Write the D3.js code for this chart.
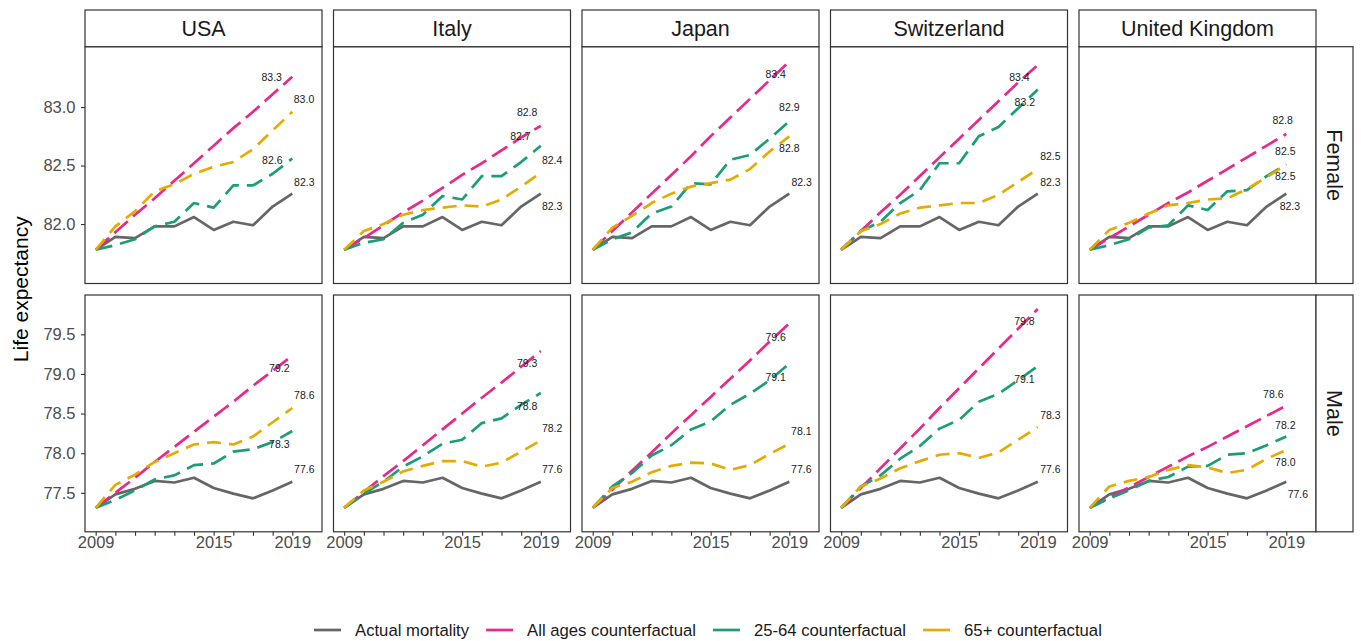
<!DOCTYPE html>
<html>
<head>
<meta charset="utf-8">
<script src="https://cdn.jsdelivr.net/npm/d3@7"></script>
<style>
  html, body { margin: 0; padding: 0; background: #ffffff; }
  svg { display: block; font-family: "Liberation Sans", Arial, Helvetica, sans-serif; }
</style>
</head>
<body>
<svg id="chart" width="1361" height="641"></svg>
<script>
// ---------------- DATA ----------------
const years = [2009, 2010, 2011, 2012, 2013, 2014, 2015, 2016, 2017, 2018, 2019];
const countries = ["USA", "Italy", "Japan", "Switzerland", "United Kingdom"];
const sexes = ["Female", "Male"];
const seriesNames = ["Actual mortality", "All ages counterfactual", "25-64 counterfactual", "65+ counterfactual"];
const xTickLabels = [2009, 2015, 2019];
const yTicksFemale = [82.0, 82.5, 83.0];
const yTicksMale = [77.5, 78.0, 78.5, 79.0, 79.5];

// Actual mortality (same in every country panel)
const actualFemale = [81.78, 81.89, 81.88, 81.98, 81.98, 82.06, 81.95, 82.02, 81.99, 82.15, 82.26];
const actualMale   = [77.31, 77.48, 77.55, 77.65, 77.63, 77.69, 77.56, 77.49, 77.43, 77.53, 77.64];

// All ages counterfactual, rows in country order
const allAgesFemale = [
  [81.78, 81.93, 82.08, 82.22, 82.37, 82.52, 82.67, 82.82, 82.96, 83.11, 83.26],
  [81.78, 81.88, 81.99, 82.10, 82.20, 82.31, 82.42, 82.52, 82.63, 82.74, 82.84],
  [81.78, 81.94, 82.10, 82.26, 82.42, 82.58, 82.75, 82.91, 83.07, 83.23, 83.39],
  [81.78, 81.94, 82.10, 82.25, 82.41, 82.57, 82.73, 82.89, 83.05, 83.21, 83.36],
  [81.78, 81.88, 81.98, 82.08, 82.18, 82.27, 82.37, 82.47, 82.57, 82.67, 82.77]
];
const allAgesMale = [
  [77.31, 77.50, 77.69, 77.89, 78.08, 78.27, 78.46, 78.65, 78.85, 79.04, 79.23],
  [77.31, 77.51, 77.71, 77.90, 78.10, 78.30, 78.50, 78.70, 78.89, 79.09, 79.29],
  [77.31, 77.54, 77.78, 78.01, 78.25, 78.48, 78.71, 78.94, 79.17, 79.41, 79.64],
  [77.31, 77.56, 77.81, 78.06, 78.31, 78.57, 78.82, 79.07, 79.32, 79.57, 79.82],
  [77.31, 77.44, 77.57, 77.70, 77.83, 77.96, 78.08, 78.21, 78.34, 78.47, 78.60]
];

// 25-64 counterfactual
const age2564Female = [
  [81.78, 81.82, 81.87, 81.98, 82.02, 82.18, 82.14, 82.33, 82.33, 82.43, 82.56],
  [81.78, 81.84, 81.87, 82.01, 82.08, 82.24, 82.21, 82.41, 82.41, 82.53, 82.67],
  [81.78, 81.87, 81.93, 82.09, 82.15, 82.35, 82.34, 82.55, 82.59, 82.73, 82.88],
  [81.78, 81.94, 82.02, 82.18, 82.29, 82.52, 82.52, 82.75, 82.83, 82.99, 83.15],
  [81.78, 81.82, 81.87, 81.97, 81.99, 82.16, 82.12, 82.28, 82.29, 82.41, 82.51]
];
const age2564Male = [
  [77.31, 77.41, 77.53, 77.67, 77.72, 77.85, 77.87, 78.02, 78.05, 78.14, 78.28],
  [77.31, 77.49, 77.64, 77.83, 77.96, 78.12, 78.17, 78.38, 78.44, 78.61, 78.76],
  [77.31, 77.58, 77.75, 77.97, 78.10, 78.30, 78.40, 78.61, 78.75, 78.92, 79.13],
  [77.31, 77.58, 77.72, 77.93, 78.09, 78.31, 78.42, 78.65, 78.75, 78.92, 79.10],
  [77.31, 77.43, 77.53, 77.65, 77.70, 77.83, 77.84, 77.98, 78.00, 78.10, 78.21]
];

// 65+ counterfactual
const age65Female = [
  [81.78, 81.98, 82.11, 82.28, 82.34, 82.43, 82.49, 82.53, 82.64, 82.80, 82.96],
  [81.78, 81.94, 82.00, 82.08, 82.12, 82.14, 82.16, 82.15, 82.21, 82.32, 82.44],
  [81.78, 81.97, 82.07, 82.18, 82.26, 82.32, 82.35, 82.38, 82.47, 82.62, 82.75],
  [81.78, 81.94, 82.00, 82.09, 82.14, 82.16, 82.18, 82.18, 82.25, 82.36, 82.47],
  [81.78, 81.95, 82.01, 82.09, 82.16, 82.18, 82.21, 82.22, 82.30, 82.40, 82.51]
];
const age65Male = [
  [77.31, 77.60, 77.73, 77.89, 78.00, 78.11, 78.14, 78.11, 78.21, 78.39, 78.57],
  [77.31, 77.53, 77.64, 77.77, 77.84, 77.90, 77.90, 77.83, 77.88, 78.02, 78.16],
  [77.31, 77.56, 77.64, 77.76, 77.84, 77.88, 77.87, 77.79, 77.85, 77.99, 78.12],
  [77.31, 77.58, 77.68, 77.81, 77.90, 77.98, 78.00, 77.94, 78.01, 78.17, 78.33],
  [77.31, 77.58, 77.65, 77.70, 77.79, 77.85, 77.82, 77.75, 77.79, 77.93, 78.04]
];

// ---------------- LAYOUT / STYLE ----------------
const W = 1361, H = 641;
const panelLeft = 85, panelW = 237, panelStepX = 248.5;
const panelTops = [46.7, 295], panelH = 236.8;
const stripTop = 10, stripW = 37;
const xDomain = [2008.456, 2020.51];
const yDomains = [[81.492, 83.516], [77.008, 79.996]];
const yTicks = [yTicksFemale, yTicksMale];
const colors = ["#666666", "#E7298A", "#1B9E77", "#E6AB02"];
const dashes = [null, "18,7", "17,8", "14,8"];
const lineW = 2.7;
const fontFam = '"Liberation Sans", Arial, Helvetica, sans-serif';

// label offsets (px) from the 2019 point, per sex -> country -> series
const labelOffsets = [
  [
    [[12, -11.6], [-20.6, 1], [-20, 2], [11.7, -12]],
    [[11.3, 12.4], [-13.7, -13.3], [-20.4, -9.3], [11.3, -12.7]],
    [[12.3, -11.6], [-13.7, 12.6], [0, -13.4], [0, 12.3]],
    [[12.6, -11.6], [-18.4, 12], [-13, 13], [12.6, -12.6]],
    [[3.6, 12.4], [-3.7, -13.3], [-1, 11.7], [-1, -13]]
  ],
  [
    [[12, -12.4], [-13, 13], [-13, 13.3], [12, -12.6]],
    [[11.3, -12.4], [-13.7, 12.6], [-13.7, 13.4], [11.3, -12.4]],
    [[12, -12.4], [-13.7, 14.6], [-13.7, 13.3], [12, -12.3]],
    [[12.6, -12.4], [-13.4, 12.4], [-13.4, 13.3], [12.6, -11.7]],
    [[11.6, 12.3], [-13, -11.7], [-1, -11.7], [-1, 12.7]]
  ]
];

const svg = d3.select("#chart");
svg.append("rect").attr("width", W).attr("height", H).attr("fill", "#ffffff");

const seriesBySex = [
  [actualFemale, allAgesFemale, age2564Female, age65Female],
  [actualMale, allAgesMale, age2564Male, age65Male]
];

const fmt = d3.format(".1f");

sexes.forEach((sex, r) => {
  const y0 = panelTops[r];
  const yScale = d3.scaleLinear().domain(yDomains[r]).range([y0 + panelH, y0]);

  countries.forEach((country, c) => {
    const x0 = panelLeft + c * panelStepX;
    const xScale = d3.scaleLinear().domain(xDomain).range([x0, x0 + panelW]);
    const g = svg.append("g");

    g.append("rect").attr("x", x0).attr("y", y0).attr("width", panelW).attr("height", panelH)
      .attr("fill", "#ffffff");

    const [act, all, a2564, a65] = seriesBySex[r];
    const seriesVals = [act, all[c], a2564[c], a65[c]];

    const line = d3.line().x((d, i) => xScale(years[i])).y(d => yScale(d));

    seriesVals.forEach((vals, s) => {
      const p = g.append("path").datum(vals)
        .attr("d", line)
        .attr("fill", "none")
        .attr("stroke", colors[s])
        .attr("stroke-width", lineW)
        .attr("stroke-linejoin", "round")
        .attr("stroke-linecap", "butt");
      if (dashes[s]) p.attr("stroke-dasharray", dashes[s]);
    });

    // end labels
    seriesVals.forEach((vals, s) => {
      const v = vals[vals.length - 1];
      const off = labelOffsets[r][c][s];
      g.append("text")
        .attr("x", xScale(years[years.length - 1]) + off[0])
        .attr("y", yScale(v) + off[1])
        .attr("dy", "0.35em")
        .attr("text-anchor", "middle")
        .attr("font-size", 10.5)
        .attr("fill", "#1a1a1a")
        .text(fmt(v));
    });

    // panel border
    g.append("rect").attr("x", x0).attr("y", y0).attr("width", panelW).attr("height", panelH)
      .attr("fill", "none").attr("stroke", "#333333").attr("stroke-width", 1.2);

    // top strips
    if (r === 0) {
      svg.append("rect").attr("x", x0).attr("y", stripTop).attr("width", panelW)
        .attr("height", y0 - stripTop).attr("fill", "#ffffff")
        .attr("stroke", "#333333").attr("stroke-width", 1.2);
      svg.append("text").attr("x", x0 + panelW / 2).attr("y", (stripTop + y0) / 2)
        .attr("dy", "0.36em").attr("text-anchor", "middle")
        .attr("font-size", 21.5).attr("fill", "#1a1a1a").text(country);
    }

    // x axis (bottom row)
    if (r === sexes.length - 1) {
      const ax = d3.axisBottom(xScale).tickValues(years).tickSize(4).tickPadding(0.5)
        .tickFormat(d => xTickLabels.includes(d) ? String(d) : "");
      const axg = svg.append("g").attr("transform", `translate(0,${y0 + panelH})`).call(ax);
      axg.select(".domain").remove();
      axg.selectAll(".tick line").attr("stroke", "#333333").attr("stroke-width", 1.1);
      axg.selectAll(".tick text").attr("fill", "#4d4d4d").attr("font-size", 16.5)
        .attr("font-family", fontFam);
    }

    // y axis (first column)
    if (c === 0) {
      const ay = d3.axisLeft(yScale).tickValues(yTicks[r]).tickSize(4).tickPadding(5.5)
        .tickFormat(fmt);
      const ayg = svg.append("g").attr("transform", `translate(${x0},0)`).call(ay);
      ayg.select(".domain").remove();
      ayg.selectAll(".tick line").attr("stroke", "#333333").attr("stroke-width", 1.1);
      ayg.selectAll(".tick text").attr("fill", "#4d4d4d").attr("font-size", 16.5)
        .attr("font-family", fontFam);
    }
  });

  // right strip
  const sx = panelLeft + (countries.length - 1) * panelStepX + panelW;
  svg.append("rect").attr("x", sx).attr("y", y0).attr("width", stripW).attr("height", panelH)
    .attr("fill", "#ffffff").attr("stroke", "#333333").attr("stroke-width", 1.2);
  svg.append("text")
    .attr("transform", `translate(${sx + stripW / 2},${y0 + panelH / 2}) rotate(90)`)
    .attr("dy", "0.36em").attr("text-anchor", "middle")
    .attr("font-size", 21.5).attr("fill", "#1a1a1a").text(sex);
});

// y axis title
svg.append("text")
  .attr("transform", `translate(20,${(panelTops[0] + panelTops[1] + panelH) / 2}) rotate(-90)`)
  .attr("dy", "0.36em").attr("text-anchor", "middle")
  .attr("font-size", 21).attr("fill", "#000000").text("Life expectancy");

// legend
const legY = 630;
let lx = 314;
const leg = svg.append("g");
seriesNames.forEach((name, s) => {
  leg.append("line").attr("x1", lx).attr("x2", lx + 27).attr("y1", legY).attr("y2", legY)
    .attr("stroke", colors[s]).attr("stroke-width", lineW);
  const t = leg.append("text").attr("x", lx + 41).attr("y", legY).attr("dy", "0.35em")
    .attr("font-size", 16.7).attr("fill", "#1a1a1a").text(name);
  const tw = t.node().getComputedTextLength();
  lx = lx + 41 + tw + 17;
});
</script>
</body>
</html>
